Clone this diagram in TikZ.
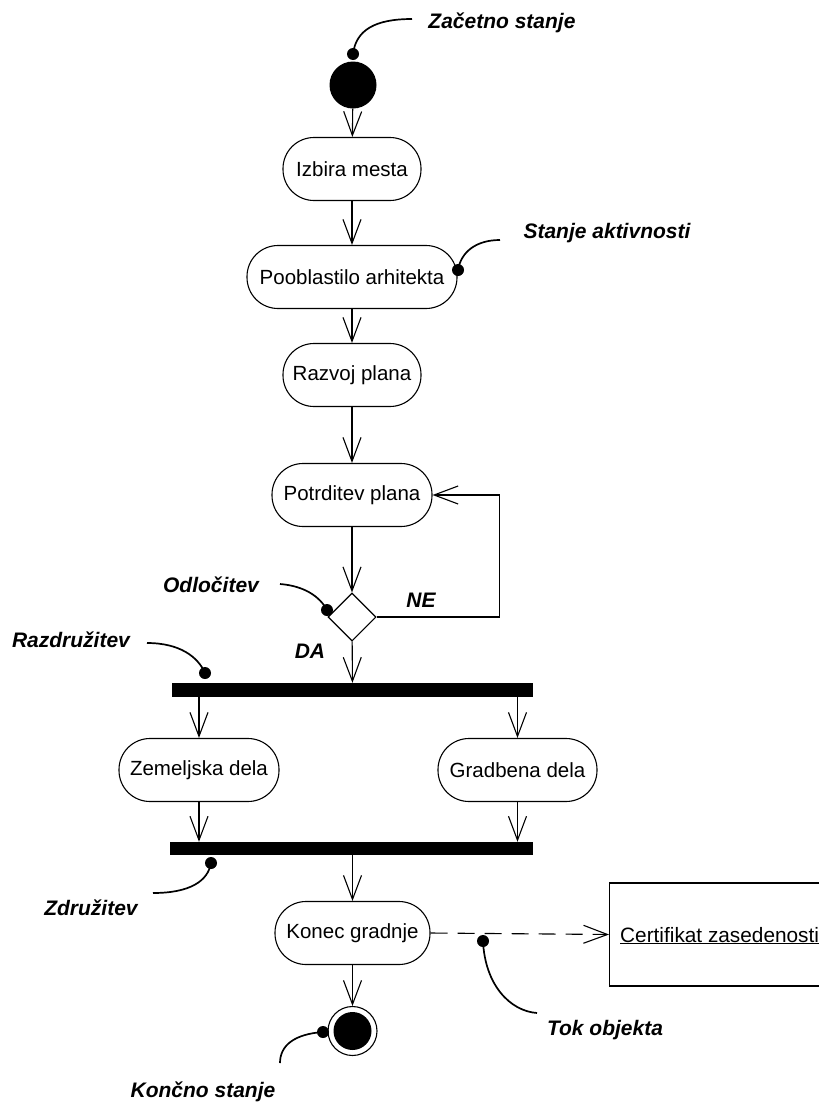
\documentclass[tikz,border=0pt]{standalone}
\usepackage{fontspec}
\setmainfont{Liberation Sans}
\usetikzlibrary{arrows.meta,shapes.geometric}

\begin{document}
\begin{tikzpicture}[x=1pt,y=-1pt,
  every node/.style={font=\fontsize{20.5}{24}\selectfont},
  act/.style={draw, line width=1.1pt, rounded corners=31pt, minimum height=63pt, inner sep=0pt},
  flow/.style={line width=1.1pt, -{Straight Barb[length=24pt,width=18pt,line width=1.1pt]}},
  bar/.style={fill=black, inner sep=0pt},
  note/.style={line width=1.7pt},
  notedot/.style={circle, fill=black, inner sep=0pt, minimum size=12pt},
  lbl/.style={font=\fontsize{21}{24}\selectfont\bfseries\itshape, anchor=base, inner sep=0pt},
]
\useasboundingbox (0,0) rectangle (819,1106);

% start state and activities
\node[circle, fill=black, inner sep=0pt, minimum size=47pt] (start) at (353,85) {};
\node[act, minimum width=138pt] (izb) at (352,169) {Izbira mesta};
\node[act, minimum width=210pt] (poo) at (352,277) {Pooblastilo arhitekta};
\node[act, minimum width=138pt] (raz) at (352,375) {Razvoj plana};
\node[act, minimum width=160pt] (pot) at (352,495) {Potrditev plana};
\node[diamond, draw, line width=1.1pt, aspect=1, minimum size=48pt, inner sep=0pt] (dec) at (352,617) {};

% fork, parallel activities, join
\node[bar, minimum width=361pt, minimum height=14pt] (fork) at (352.5,690) {};
\node[act, minimum width=160pt] (zem) at (199,770) {Zemeljska dela};
\node[act, minimum width=159pt] (gra) at (517.5,770) {Gradbena dela};
\node[bar, minimum width=363pt, minimum height=13pt] (join) at (351.5,848.5) {};
\node[act, minimum width=155pt] (kon) at (352.5,933) {Konec gradnje};

% object (runs past the right edge of the page)
\node[draw, line width=1.1pt, anchor=west, minimum width=260pt, minimum height=103pt] (cert) at (609,934.5) {};
\node[anchor=base west, inner sep=0pt, font=\fontsize{20.8}{24}\selectfont] (certtxt) at (620,942) {\underline{Certifikat zasedenosti}};

% final state
\node[circle, draw, line width=1.1pt, minimum size=49pt, inner sep=0pt] (fin) at (352.5,1031) {};
\node[circle, fill=black, minimum size=38pt, inner sep=0pt] (finin) at (fin) {};

% control flow
\draw[flow] (start) -- (izb);
\draw[flow] (izb) -- (poo);
\draw[flow] (poo) -- (raz);
\draw[flow] (raz) -- (pot);
\draw[flow] (pot) -- (dec);
\draw[flow] (dec.east) -| ([xshift=67pt]pot.east) -- (pot.east);
\draw[flow] (dec) -- (fork);
\draw[flow] (fork.south -| zem.north) -- (zem.north);
\draw[flow] (fork.south -| gra.north) -- (gra.north);
\draw[flow] (zem.south) -- (join.north -| zem.south);
\draw[flow] (gra.south) -- (join.north -| gra.south);
\draw[flow] (join.south -| kon.north) -- (kon.north);
\draw[flow] (kon) -- (fin);

% object flow
\draw[line width=1.1pt, dash pattern=on 17pt off 10pt, -{Straight Barb[length=24pt,width=18pt,line width=1.1pt]}] (kon.east) -- (cert.west);

% guard labels
\node[lbl] (ne) at (421,607) {NE};
\node[lbl] (da) at (310,658) {DA};

% annotations
\node[notedot] (d1) at (353,54) {};
\coordinate (e1) at (412,19);
\draw[note] (d1.center) .. controls (356,30) and (375,19) .. (e1);
\node[lbl] (l1) at (502,28) {Začetno stanje};

\node[notedot] (d2) at (458,270) {};
\coordinate (e2) at (500,240);
\draw[note] (d2.center) .. controls (461,252) and (476,240) .. (e2);
\node[lbl] (l2) at (607,238) {Stanje aktivnosti};

\node[notedot] (d3) at (327,610) {};
\coordinate (e3) at (280,584);
\draw[note] (e3) .. controls (305,586) and (320,597) .. (d3.center);
\node[lbl] (l3) at (211,592) {Odločitev};

\node[notedot] (d4) at (205,673) {};
\coordinate (e4) at (147,643);
\draw[note] (e4) .. controls (180,643) and (198,657) .. (d4.center);
\node[lbl] (l4) at (71,647) {Razdružitev};

\node[notedot] (d5) at (211,863) {};
\coordinate (e5) at (153,893);
\draw[note] (d5.center) .. controls (208,881) and (190,893) .. (e5);
\node[lbl] (l5) at (91,915) {Združitev};

\node[notedot] (d6) at (483,941) {};
\coordinate (e6) at (537,1013);
\draw[note] (d6.center) .. controls (485,985) and (510,1011) .. (e6);
\node[lbl] (l6) at (605,1035) {Tok objekta};

\node[notedot] (d7) at (323,1032) {};
\coordinate (e7) at (280,1063);
\draw[note] (d7.center) .. controls (295,1034) and (280,1045) .. (e7);
\node[lbl] (l7) at (203,1097) {Končno stanje};
\end{tikzpicture}
\end{document}
